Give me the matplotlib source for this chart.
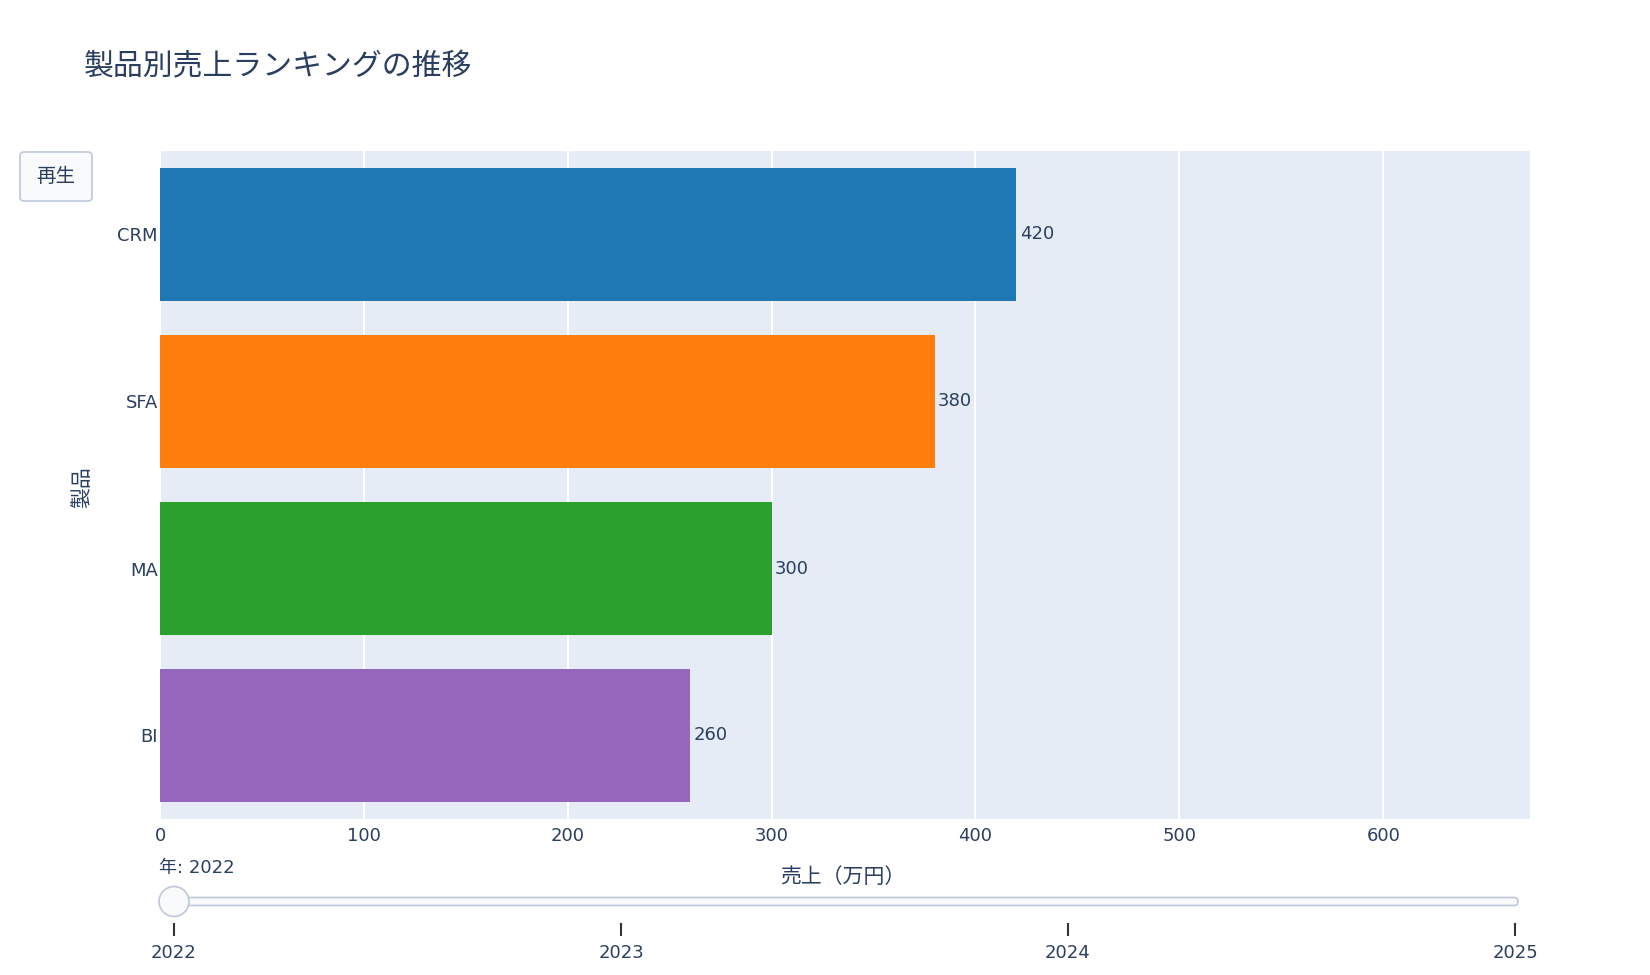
import matplotlib.pyplot as plt
from matplotlib.patches import FancyBboxPatch, Circle

plt.rcParams['font.family'] = ['DejaVu Sans', 'Noto Sans CJK JP']

products = ["CRM", "SFA", "MA", "BI"]
sales = [420, 380, 300, 260]
colors = ["#1f77b4", "#ff7f0e", "#2ca02c", "#9467bd"]
years = [2022, 2023, 2024, 2025]
current_year = 2022
x_ticks = [0, 100, 200, 300, 400, 500, 600]

TEXT = "#2a3f5f"
W, H = 1650, 975


def frac(x0, y0, x1, y1):
    # pixel box (top-left origin) -> figure fractions [l, b, w, h]
    return [x0 / W, 1 - y1 / H, (x1 - x0) / W, (y1 - y0) / H]


fig = plt.figure(figsize=(W / 100, H / 100), dpi=100)
ax = fig.add_axes(frac(160, 151, 1530, 819))
ax.set_facecolor("#E5ECF6")

bars = ax.barh(products, sales, height=0.8, color=colors, zorder=2)
ax.bar_label(bars, labels=[str(v) for v in sales], padding=2.5,
             fontsize=13, color=TEXT)
ax.set_xlim(0, 672)
ax.set_ylim(3.5, -0.5)
ax.set_xticks(x_ticks)
ax.grid(axis="x", color="white", linewidth=1.5, zorder=1)
ax.set_axisbelow(True)
for s in ax.spines.values():
    s.set_visible(False)
ax.tick_params(axis="both", length=0, labelsize=13, labelcolor=TEXT)
ax.tick_params(axis="x", pad=6)
ax.tick_params(axis="y", pad=1.5)

fig.text(84 / W, 1 - 67 / H, "製品別売上ランキングの推移", fontsize=21.5,
         color=TEXT, va="center", ha="left")
fig.text(843 / W, 1 - 877 / H, "売上（万円）", fontsize=15, color=TEXT,
         ha="center", va="center")
fig.text(82 / W, 1 - 487 / H, "製品", fontsize=15, color=TEXT,
         ha="center", va="center", rotation=90)

# overlay in pixel coordinates for the button and slider
ov = fig.add_axes([0, 0, 1, 1], facecolor="none")
ov.set_xlim(0, W)
ov.set_ylim(H, 0)
ov.axis("off")

ov.add_patch(FancyBboxPatch((20, 152), 72, 49, boxstyle="round,pad=0,rounding_size=4",
                            facecolor="#F8FAFC", edgecolor="#BEC8D9", linewidth=1.2))
ov.text(56, 176, "再生", fontsize=14, color=TEXT, ha="center", va="center")

track_x0, track_x1, track_y = 160, 1518, 901.5
ov.add_patch(FancyBboxPatch((track_x0, track_y - 4), track_x1 - track_x0, 8,
                            boxstyle="round,pad=0,rounding_size=4",
                            facecolor="#F8FAFC", edgecolor="#BEC8D9", linewidth=1.2))

tick_x0, tick_x1 = 174, 1515
for i, yr in enumerate(years):
    tx = tick_x0 + (tick_x1 - tick_x0) * i / (len(years) - 1)
    ov.plot([tx, tx], [924, 935], color="#333333", linewidth=1.5)
    ov.text(tx, 953, str(yr), fontsize=13, color=TEXT, ha="center", va="center")

hx = tick_x0 + (tick_x1 - tick_x0) * years.index(current_year) / (len(years) - 1)
ov.add_patch(Circle((hx, track_y), 15, facecolor="#F8FAFC", edgecolor="#BEC8D9",
                    linewidth=1.2, zorder=5))
ov.text(159, 868, f"年: {current_year}", fontsize=13, color=TEXT,
        ha="left", va="center")

fig.savefig("out.png", dpi=100, facecolor="white")
